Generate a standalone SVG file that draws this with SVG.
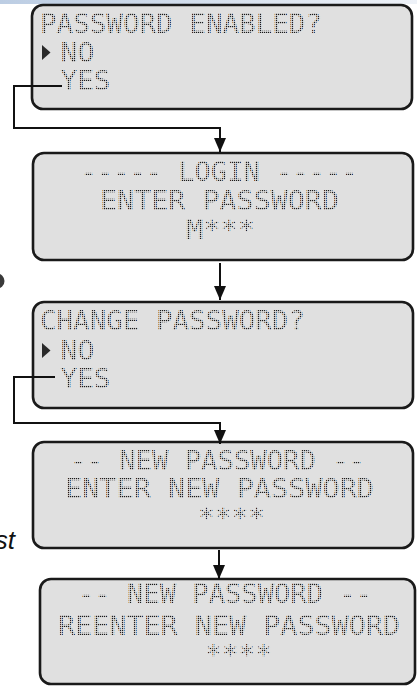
<svg xmlns="http://www.w3.org/2000/svg" width="417" height="686" viewBox="0 0 417 686">
  <defs>
    <linearGradient id="topbar" x1="0" y1="0" x2="1" y2="0">
      <stop offset="0" stop-color="#bccde3"/>
      <stop offset="1" stop-color="#eef2f8"/>
    </linearGradient>
    <pattern id="dots" width="2" height="2" patternUnits="userSpaceOnUse">
      <rect width="1.2" height="1.2" fill="#1a1a1a"/>
    </pattern>
    <marker id="arrow" viewBox="0 0 14 14" refX="14" refY="7" markerWidth="14" markerHeight="14" markerUnits="userSpaceOnUse" orient="auto">
      <path d="M0,1 L14,7 L0,13 Z" fill="#111"/>
    </marker>
    <style>
      .lcd { fill: #e0e0e0; stroke: #1a1a1a; stroke-width: 2.6; }
      .t { font-family: "DejaVu Sans Mono", "Liberation Mono", monospace; font-size: 27px; fill: url(#dots); }
      .c { text-anchor: middle; }
      .ptr { fill: #2a2a2a; }
      .conn { fill: none; stroke: #111; stroke-width: 2; }
    </style>
  </defs>

  <rect x="0" y="0" width="417" height="4" fill="url(#topbar)"/>
  <circle cx="-3" cy="281" r="7.5" fill="#3a3a3a"/>
  <text x="15" y="549" font-family="Liberation Sans, Arial, sans-serif" font-style="italic" font-size="26" fill="#111" text-anchor="end">st</text>

  <g id="node-password-enabled">
    <rect class="lcd" x="32" y="5" width="380" height="104" rx="11"/>
    <text class="t" x="40" y="33" textLength="282" lengthAdjust="spacingAndGlyphs">PASSWORD ENABLED?</text>
    <polygon class="ptr" points="42,45 50.5,52.5 42,60"/>
    <text class="t" x="60.5" y="62" textLength="34" lengthAdjust="spacingAndGlyphs">NO</text>
    <text class="t" x="60.5" y="90" textLength="50" lengthAdjust="spacingAndGlyphs">YES</text>
  </g>

  <g id="node-login">
    <rect class="lcd" x="33" y="153" width="380" height="107" rx="11"/>
    <text class="t c" x="219" y="181" textLength="277" lengthAdjust="spacingAndGlyphs">----- LOGIN -----</text>
    <text class="t c" x="219.5" y="210" textLength="239" lengthAdjust="spacingAndGlyphs">ENTER PASSWORD</text>
    <text class="t c" x="220.5" y="239" textLength="69" lengthAdjust="spacingAndGlyphs">M***</text>
  </g>

  <g id="node-change-password">
    <rect class="lcd" x="33" y="302" width="380" height="106" rx="11"/>
    <text class="t" x="40" y="330" textLength="265" lengthAdjust="spacingAndGlyphs">CHANGE PASSWORD?</text>
    <polygon class="ptr" points="42,343 50.5,350.5 42,358"/>
    <text class="t" x="60.5" y="360" textLength="34" lengthAdjust="spacingAndGlyphs">NO</text>
    <text class="t" x="60.5" y="388" textLength="50" lengthAdjust="spacingAndGlyphs">YES</text>
  </g>

  <g id="node-new-password">
    <rect class="lcd" x="33" y="442" width="380" height="106" rx="11"/>
    <text class="t c" x="217.5" y="470" textLength="295" lengthAdjust="spacingAndGlyphs">-- NEW PASSWORD --</text>
    <text class="t c" x="219.5" y="498" textLength="309" lengthAdjust="spacingAndGlyphs">ENTER NEW PASSWORD</text>
    <text class="t c" x="231.5" y="527" textLength="67" lengthAdjust="spacingAndGlyphs">****</text>
  </g>

  <g id="node-reenter-password">
    <rect class="lcd" x="40" y="579" width="375" height="105" rx="11"/>
    <text class="t c" x="225" y="603" textLength="294" lengthAdjust="spacingAndGlyphs">-- NEW PASSWORD --</text>
    <text class="t c" x="229" y="635" textLength="342" lengthAdjust="spacingAndGlyphs">REENTER NEW PASSWORD</text>
    <text class="t c" x="238.5" y="664" textLength="67" lengthAdjust="spacingAndGlyphs">****</text>
  </g>

  <g id="connectors">
    <path class="conn" d="M62,86 H14 V128 H220 V152" marker-end="url(#arrow)"/>
    <path class="conn" d="M220,263 V300" marker-end="url(#arrow)"/>
    <path class="conn" d="M55,377 H14 V423 H220 V444" marker-end="url(#arrow)"/>
    <path class="conn" d="M219,550 V579" marker-end="url(#arrow)"/>
  </g>
</svg>
